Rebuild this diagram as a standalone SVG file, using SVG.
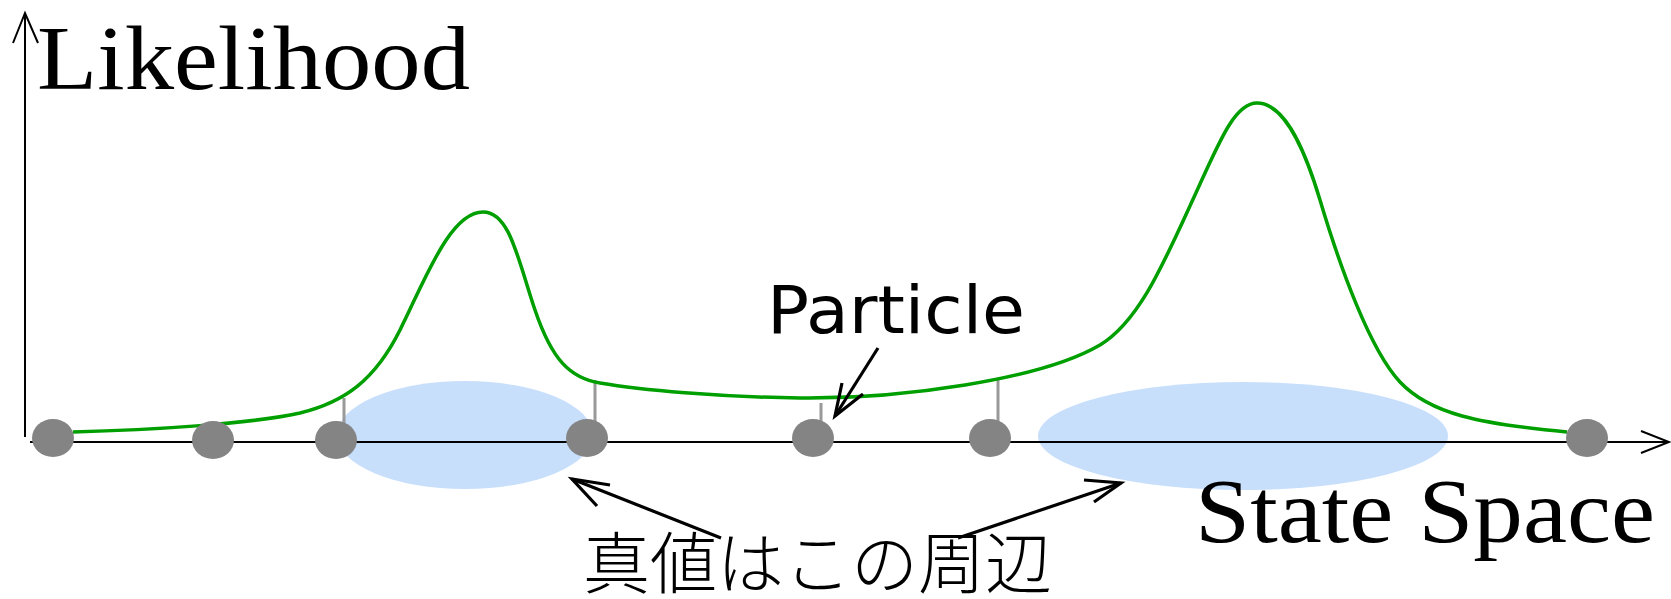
<svg xmlns="http://www.w3.org/2000/svg" width="1671" height="599" viewBox="0 0 1671 599">
<style>
.axis{stroke:#000;stroke-width:2;fill:none}
.region{fill:#C8DFFC}
.stem{stroke:#999;stroke-width:3}
.particle{fill:#848484}
.curve{stroke:#009F00;stroke-width:3.5;fill:none;stroke-linejoin:round}
.ann{stroke:#000;stroke-width:3.2;fill:none;stroke-linecap:butt}
.serif{font-family:"Liberation Serif","Times New Roman",serif;font-size:92px;fill:#000}
.sans{font-family:"DejaVu Sans","Noto Sans",sans-serif;font-size:66px;fill:#000}
.jp{font-family:"Noto Sans CJK JP","Noto Sans",sans-serif;font-size:67px;fill:#000;font-weight:300}
</style>
<rect width="1671" height="599" fill="#fff"/>
<g id="regions">
<ellipse id="region1" class="region" cx="465" cy="435" rx="128" ry="54"/>
<ellipse id="region2" class="region" cx="1243" cy="436" rx="205" ry="54"/>
</g>
<g id="axes">
<line class="axis" x1="25" y1="437" x2="25" y2="14"/>
<polyline class="axis" points="13,43 25,13 38,43"/>
<line class="axis" x1="30" y1="442" x2="1669" y2="442"/>
<polyline class="axis" points="1641,431 1669,442 1641,453"/>
</g>
<g id="stems">
<line class="stem" x1="344" y1="398" x2="344" y2="425"/>
<line class="stem" x1="595" y1="380" x2="595" y2="425"/>
<line class="stem" x1="821" y1="403" x2="821" y2="425"/>
<line class="stem" x1="998" y1="378" x2="998" y2="425"/>
</g>
<path id="likelihood-curve" class="curve" d="M73,432 C150,430 250,424 300,413 C345,402 375,380 400,330 C425,280 450,212 483,212 C510,212 518,260 535,310 C552,360 570,378 600,383 C640,390 720,397 800,398 C900,399 1040,380 1100,345 C1140,321 1165,260 1195,195 C1220,140 1235,103 1257,103 C1282,103 1302,140 1320,200 C1340,267 1370,350 1400,382 C1430,414 1480,424 1567,432"/>
<g id="particles">
<ellipse id="p1" class="particle" cx="53" cy="438" rx="21" ry="19"/>
<ellipse id="p2" class="particle" cx="213" cy="440" rx="21" ry="19"/>
<ellipse id="p3" class="particle" cx="336" cy="440" rx="21" ry="19"/>
<ellipse id="p4" class="particle" cx="587" cy="438" rx="21" ry="19"/>
<ellipse id="p5" class="particle" cx="813" cy="438" rx="21" ry="19"/>
<ellipse id="p6" class="particle" cx="990" cy="438" rx="21" ry="19"/>
<ellipse id="p7" class="particle" cx="1587" cy="438" rx="21" ry="19"/>
</g>
<g id="connectors">
<line class="ann" x1="878" y1="348" x2="835" y2="416"/>
<polyline class="ann" points="842,383 835,416 863,394"/>
<line class="ann" x1="721" y1="538" x2="572" y2="479"/>
<polyline class="ann" points="610,485 572,479 597,506"/>
<line class="ann" x1="958" y1="538" x2="1121" y2="483"/>
<polyline class="ann" points="1084,480 1121,483 1094,502"/>
</g>
<g id="labels">
<text id="ylabel" class="serif" x="37" y="89" textLength="433" lengthAdjust="spacingAndGlyphs">Likelihood</text>
<text id="xlabel" class="serif" x="1195" y="542" textLength="460" lengthAdjust="spacingAndGlyphs">State Space</text>
<text id="particle-label" class="sans" x="767" y="333" textLength="258" lengthAdjust="spacingAndGlyphs">Particle</text>
<text id="truth-label" class="jp" x="583" y="588">真値はこの周辺</text>
</g>
</svg>
